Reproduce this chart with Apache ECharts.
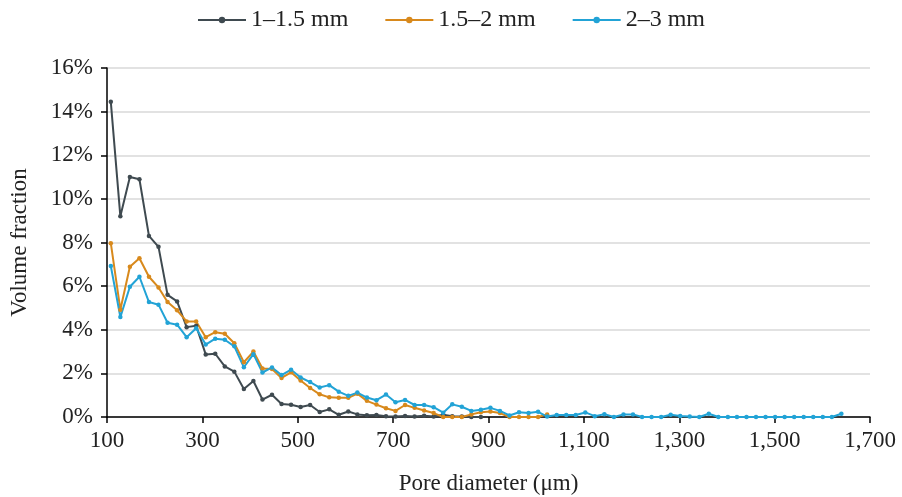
<!DOCTYPE html>
<html>
<head>
<meta charset="utf-8">
<script src="https://cdn.jsdelivr.net/npm/echarts@6/dist/echarts.min.js"></script>
<style>
  html, body { margin: 0; padding: 0; background: #fff; }
  #chart { width: 902px; height: 497px; }
</style>
</head>
<body>
<div id="chart"></div>
<script>
// pore diameter (um)
var poreDiameter = [108, 128, 148, 168, 188, 208, 227, 247, 267, 287,
  307, 327, 347, 367, 387, 407, 426, 446, 466, 486,
  506, 526, 546, 566, 586, 606, 625, 645, 665, 685,
  705, 725, 745, 765, 785, 805, 824, 844, 864, 884,
  904, 924, 944, 964, 984, 1004, 1023, 1043, 1063, 1083,
  1103, 1123, 1143, 1163, 1183, 1203, 1222, 1242, 1262, 1282,
  1302, 1322, 1342, 1362, 1382, 1402, 1421, 1441, 1461, 1481,
  1501, 1521, 1541, 1561, 1581, 1601, 1620, 1640];

// volume fraction (%)
var size1to15 = [14.45, 9.2, 11.0, 10.9, 8.3, 7.8, 5.6, 5.3, 4.12, 4.18,
  2.87, 2.9, 2.32, 2.08, 1.28, 1.65, 0.8, 1.02, 0.6, 0.56,
  0.46, 0.55, 0.23, 0.35, 0.1, 0.25, 0.12, 0.08, 0.09, 0.04,
  0.02, 0.05, 0.02, 0.06, 0.02, 0.1, 0.03, 0.02, 0.0, 0.0];

var size15to2 = [7.97, 4.92, 6.89, 7.28, 6.43, 5.94, 5.27, 4.89, 4.38, 4.38,
  3.66, 3.89, 3.82, 3.38, 2.51, 3.0, 2.22, 2.2, 1.79, 2.05,
  1.67, 1.33, 1.04, 0.9, 0.88, 0.88, 1.07, 0.74, 0.57, 0.4,
  0.28, 0.55, 0.42, 0.3, 0.18, 0.0, 0.0, 0.0, 0.12, 0.22,
  0.25, 0.18, 0.0, 0.0, 0.0, 0.0, 0.12];

var size2to3 = [6.92, 4.58, 5.97, 6.43, 5.27, 5.15, 4.32, 4.23, 3.66, 4.07,
  3.32, 3.59, 3.54, 3.24, 2.28, 2.88, 2.04, 2.27, 1.92, 2.17,
  1.81, 1.6, 1.35, 1.46, 1.16, 0.97, 1.12, 0.89, 0.77, 1.03,
  0.68, 0.78, 0.55, 0.55, 0.45, 0.2, 0.58, 0.47, 0.28, 0.33,
  0.42, 0.28, 0.07, 0.22, 0.18, 0.24, 0.02, 0.09, 0.09, 0.09,
  0.21, 0.04, 0.13, 0.0, 0.12, 0.12, 0.0, 0.0, 0.0, 0.1,
  0.05, 0.02, 0.0, 0.15, 0.0, 0.0, 0.0, 0.0, 0.0, 0.0,
  0.0, 0.0, 0.0, 0.0, 0.0, 0.0, 0.0, 0.15];

var seriesNames = ['1\u20131.5 mm', '1.5\u20132 mm', '2\u20133 mm'];
var seriesColors = ['#3f4a50', '#d8891c', '#22a3d6'];

function pairs(vals){
  var out = [];
  for(var i = 0; i < vals.length; i++){
    out.push([poreDiameter[i], vals[i]]);
  }
  return out;
}

var font = '"Liberation Serif", "Times New Roman", serif';
var chart = echarts.init(document.getElementById('chart'));

function lineSeries(name, vals, color){
  return {
    name: name,
    type: 'line',
    data: pairs(vals),
    symbol: 'circle',
    symbolSize: 4.5,
    showSymbol: true,
    lineStyle: { width: 2, color: color },
    itemStyle: { color: color },
    animation: false
  };
}

var option = {
  backgroundColor: '#fff',
  color: seriesColors,
  textStyle: { fontFamily: font },
  legend: {
    top: 3,
    left: 'center',
    itemWidth: 48,
    itemHeight: 8,
    itemGap: 36,
    textStyle: { fontFamily: font, fontSize: 24, color: '#222' },
    data: seriesNames
  },
  grid: { left: 107, right: 32, top: 68, bottom: 80, outerBoundsMode: 'none', containLabel: false },
  xAxis: {
    type: 'value',
    min: 100,
    max: 1700,
    interval: 200,
    name: 'Pore diameter (\u03bcm)',
    nameLocation: 'middle',
    nameGap: 55,
    nameTextStyle: { fontFamily: font, fontSize: 23, color: '#222' },
    axisLine: { show: true, onZero: false, lineStyle: { color: '#000', width: 1.5 } },
    axisTick: { show: true, inside: false, length: 6, lineStyle: { color: '#000', width: 1.5 } },
    axisLabel: {
      fontFamily: font, fontSize: 23, color: '#222', margin: 12,
      formatter: function(v){ return String(v).replace(/\B(?=(\d{3})+(?!\d))/g, ','); }
    },
    splitLine: { show: false }
  },
  yAxis: {
    type: 'value',
    min: 0,
    max: 16,
    interval: 2,
    name: 'Volume fraction',
    nameLocation: 'middle',
    nameGap: 76,
    nameTextStyle: { fontFamily: font, fontSize: 23, color: '#222' },
    axisLine: { show: true, lineStyle: { color: '#000', width: 1.5 } },
    axisTick: { show: true, inside: false, length: 6, lineStyle: { color: '#000', width: 1.5 } },
    axisLabel: { fontFamily: font, fontSize: 23, color: '#222', margin: 14, formatter: '{value}%' },
    splitLine: { show: true, lineStyle: { color: '#d9d9d9', width: 1.5 } }
  },
  series: [
    lineSeries(seriesNames[0], size1to15, seriesColors[0]),
    lineSeries(seriesNames[1], size15to2, seriesColors[1]),
    lineSeries(seriesNames[2], size2to3, seriesColors[2])
  ]
};
chart.setOption(option);
</script>
</body>
</html>
